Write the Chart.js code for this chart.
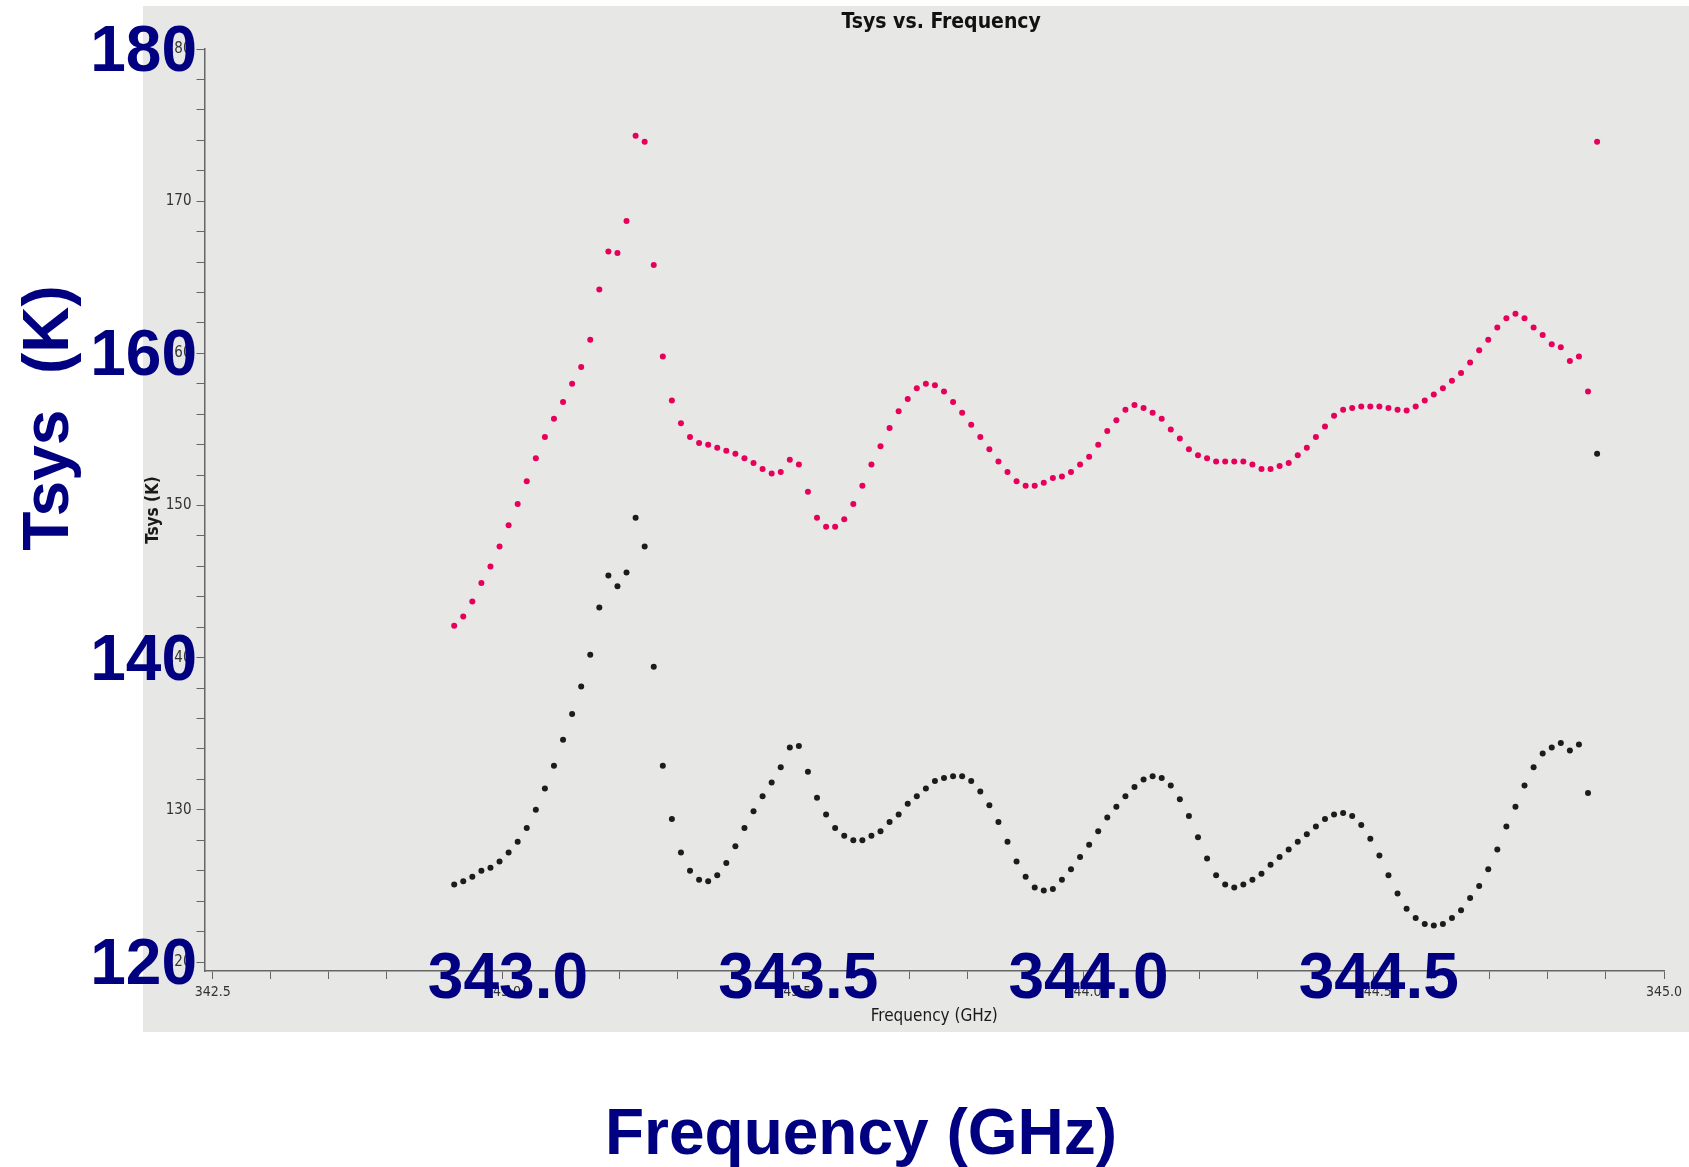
<!DOCTYPE html>
<html>
<head>
<meta charset="utf-8">
<title>Tsys vs. Frequency</title>
<script src="https://cdn.jsdelivr.net/npm/chart.js@4.4.1/dist/chart.umd.min.js"></script>
<style>
  html, body { margin: 0; background: #fff; }
  canvas { display: block; }
</style>
</head>
<body>
<canvas id="tsys" width="1689" height="1167"></canvas>
<script>
// spectral window: 127 channels, 15.625 MHz apart
const FREQ_START = 342.916;   // GHz, first channel
const CHAN_WIDTH = 0.015625;  // GHz

// Tsys per channel (K), upper (pink) and lower (black) traces
const TSYS_PINK = [
  142.1, 142.7, 143.7, 144.9, 146.0, 147.3, 148.7, 150.1, 151.6, 153.1,
  154.5, 155.7, 156.8, 158.0, 159.1, 160.9, 164.2, 166.7, 166.6, 168.7,
  174.3, 173.9, 165.8, 159.8, 156.9, 155.4, 154.5, 154.1, 154.0, 153.8,
  153.6, 153.4, 153.1, 152.8, 152.4, 152.1, 152.2, 153.0, 152.7, 150.9,
  149.2, 148.6, 148.6, 149.1, 150.1, 151.3, 152.7, 153.9, 155.1, 156.2,
  157.0, 157.7, 158.0, 157.9, 157.5, 156.8, 156.1, 155.3, 154.5, 153.7,
  152.9, 152.2, 151.6, 151.3, 151.3, 151.5, 151.8, 151.9, 152.2, 152.7,
  153.2, 154.0, 154.9, 155.6, 156.3, 156.6, 156.4, 156.1, 155.7, 155.0,
  154.4, 153.7, 153.3, 153.1, 152.9, 152.9, 152.9, 152.9, 152.7, 152.4,
  152.4, 152.6, 152.8, 153.3, 153.8, 154.5, 155.2, 155.9, 156.3, 156.4,
  156.5, 156.5, 156.5, 156.4, 156.3, 156.25, 156.5, 156.9, 157.3, 157.7,
  158.2, 158.7, 159.4, 160.2, 160.9, 161.7, 162.3, 162.6, 162.3, 161.7,
  161.2, 160.6, 160.4, 159.5, 159.8, 157.5, 173.9
];
const TSYS_BLACK = [
  125.1, 125.3, 125.6, 126.0, 126.2, 126.6, 127.2, 127.9, 128.8, 130.0,
  131.4, 132.9, 134.6, 136.3, 138.1, 140.2, 143.3, 145.4, 144.7, 145.6,
  149.2, 147.3, 139.4, 132.9, 129.4, 127.2, 126.0, 125.4, 125.3, 125.7,
  126.5, 127.6, 128.8, 129.9, 130.9, 131.8, 132.8, 134.1, 134.2, 132.5,
  130.8, 129.7, 128.8, 128.3, 128.0, 128.0, 128.3, 128.6, 129.2, 129.7,
  130.4, 130.9, 131.4, 131.9, 132.1, 132.2, 132.2, 131.9, 131.2, 130.3,
  129.2, 127.9, 126.6, 125.6, 124.9, 124.7, 124.8, 125.4, 126.1, 126.9,
  127.7, 128.6, 129.5, 130.2, 130.9, 131.5, 132.0, 132.2, 132.1, 131.6,
  130.7, 129.6, 128.2, 126.8, 125.7, 125.1, 124.9, 125.1, 125.4, 125.8,
  126.4, 126.9, 127.4, 127.9, 128.4, 128.9, 129.4, 129.7, 129.8, 129.6,
  129.0, 128.1, 127.0, 125.7, 124.5, 123.5, 122.9, 122.5, 122.4, 122.5,
  122.9, 123.4, 124.2, 125.0, 126.1, 127.4, 128.9, 130.2, 131.6, 132.8,
  133.7, 134.1, 134.4, 133.9, 134.3, 131.1, 153.4
];

// axis ticks: minor every 0.1 GHz / 2 K, labelled every 0.5 GHz / 10 K
const X_TICKS = [342.5, 342.6, 342.7, 342.8, 342.9, 343.0, 343.1, 343.2, 343.3, 343.4,
                 343.5, 343.6, 343.7, 343.8, 343.9, 344.0, 344.1, 344.2, 344.3, 344.4,
                 344.5, 344.6, 344.7, 344.8, 344.9, 345.0];
const Y_TICKS = [120, 122, 124, 126, 128, 130, 132, 134, 136, 138, 140, 142, 144, 146, 148,
                 150, 152, 154, 156, 158, 160, 162, 164, 166, 168, 170, 172, 174, 176, 178, 180];
// large overlay labels
const BIG_X_LABELS = [343.0, 343.5, 344.0, 344.5];
const BIG_Y_LABELS = [120, 140, 160, 180];

const SMALL_FONT = "'DejaVu Sans Condensed', 'DejaVu Sans', sans-serif";
const BIG_FONT = "bold 64px 'Liberation Sans', Arial, sans-serif";
const NAVY = "#000080";

const pts = vals => vals.map((t, i) => ({ x: FREQ_START + i * CHAN_WIDTH, y: t }));
const isMult = (v, step) => Math.abs(v / step - Math.round(v / step)) < 1e-6;

const panel = {
  id: "panel",
  beforeDraw(chart) {
    const ctx = chart.ctx;
    ctx.save();
    ctx.fillStyle = "#fff";
    ctx.fillRect(0, 0, chart.width, chart.height);
    ctx.fillStyle = "#e7e7e5";
    ctx.fillRect(143, 6, chart.width - 143, 1026);
    ctx.restore();
  },
  afterDraw(chart) {
    const { ctx, chartArea: a, scales: { x, y } } = chart;
    ctx.save();
    // plot title
    ctx.fillStyle = "#111";
    ctx.font = "bold 21px " + SMALL_FONT;
    ctx.textAlign = "center";
    ctx.textBaseline = "middle";
    ctx.fillText("Tsys vs. Frequency", (a.left + a.right) / 2 + 7, 23);

    // big navy tick labels
    ctx.fillStyle = NAVY;
    ctx.font = BIG_FONT;
    ctx.textBaseline = "alphabetic";
    ctx.textAlign = "right";
    BIG_Y_LABELS.forEach(v => ctx.fillText(String(v), 197, y.getPixelForValue(v) + 22));
    ctx.textAlign = "center";
    BIG_X_LABELS.forEach(v => ctx.fillText(v.toFixed(1), x.getPixelForValue(v) + 5, a.bottom + 27));

    // big axis titles
    ctx.fillText("Frequency (GHz)", 861, 1154);
    ctx.translate(44.5, 418);
    ctx.rotate(-Math.PI / 2);
    ctx.fillText("Tsys  (K)", 0, 23);
    ctx.restore();
  }
};

const axisCommon = {
  grid: { display: true, drawOnChartArea: false, drawTicks: true, tickLength: 8, color: "#666", lineWidth: 1 },
  border: { display: true, color: "#666", width: 1.5 }
};

new Chart(document.getElementById("tsys"), {
  type: "scatter",
  data: {
    datasets: [
      { label: "pink", data: pts(TSYS_PINK), backgroundColor: "#e6005c", borderColor: "#e6005c",
        pointRadius: 3, pointBorderWidth: 0, showLine: false },
      { label: "black", data: pts(TSYS_BLACK), backgroundColor: "#1c1c1c", borderColor: "#1c1c1c",
        pointRadius: 3, pointBorderWidth: 0, showLine: false }
    ]
  },
  options: {
    responsive: false,
    animation: false,
    devicePixelRatio: 1,
    layout: { padding: { left: 143, right: 25, top: 49, bottom: 137 } },
    plugins: { legend: { display: false }, title: { display: false }, tooltip: { enabled: false } },
    scales: {
      x: {
        ...axisCommon,
        type: "linear",
        min: 342.4859,
        max: 345.0,
        afterBuildTicks: s => { s.ticks = X_TICKS.map(v => ({ value: v })); },
        afterFit: s => { s.height = 59; },
        ticks: {
          autoSkip: false, maxRotation: 0, padding: 5, color: "#333",
          font: { family: SMALL_FONT, size: 14 },
          callback: v => isMult(v, 0.5) ? v.toFixed(1) : ""
        },
        title: { display: true, text: "Frequency (GHz)", color: "#1a1a1a",
                 font: { family: SMALL_FONT, size: 17 }, padding: { top: 0, bottom: 3 } }
      },
      y: {
        ...axisCommon,
        type: "linear",
        min: 119.41,
        max: 180,
        afterBuildTicks: s => { s.ticks = Y_TICKS.map(v => ({ value: v })); },
        afterFit: s => { s.width = 61.5; },
        ticks: {
          autoSkip: false, padding: 5, color: "#333",
          font: { family: SMALL_FONT, size: 15 },
          callback: v => isMult(v, 10) ? String(v) : ""
        },
        title: { display: true, text: "Tsys (K)", color: "#1a1a1a",
                 font: { family: SMALL_FONT, size: 17, weight: "bold" }, padding: { top: 0, bottom: 0 } }
      }
    }
  },
  plugins: [panel]
});
</script>
</body>
</html>
